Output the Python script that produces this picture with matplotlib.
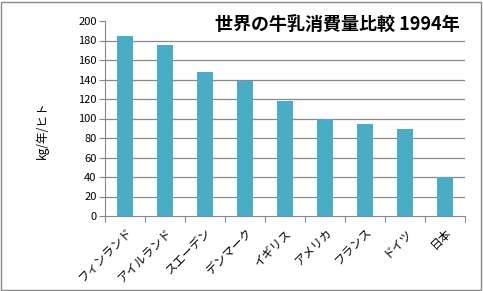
import matplotlib
matplotlib.use("Agg")
import matplotlib.pyplot as plt
from matplotlib.patches import Rectangle

plt.rcParams['font.family'] = ['Noto Sans CJK JP', 'DejaVu Sans']

countries = ['フィンランド', 'アイルランド', 'スエーデン', 'デンマーク', 'イギリス',
             'アメリカ', 'フランス', 'ドイツ', '日本']
milk = [185, 175, 148, 138, 118, 100, 94, 89, 40]
yticks = list(range(0, 201, 20))

fig = plt.figure(figsize=(4.83, 2.91), dpi=100)
ax = fig.add_axes([105 / 483, 1 - 216 / 291, 360 / 483, 195 / 291])

ax.bar(range(len(countries)), milk, width=0.4, color='#4BACC6', zorder=3)
ax.set_xlim(-0.5, len(countries) - 0.5)
ax.set_ylim(0, 200)
ax.set_yticks(yticks)
ax.set_xticks([i - 0.5 for i in range(len(countries) + 1)], minor=False)
ax.set_xticklabels([])
ax.set_xticks(range(len(countries)), minor=True)
ax.set_xticklabels(countries, minor=True, rotation=45, ha='right',
                   rotation_mode='anchor', fontsize=8.5)
ax.tick_params(axis='x', which='minor', length=0, pad=7)
ax.tick_params(axis='x', which='major', length=4, color='#888888')
ax.tick_params(axis='y', length=4, color='#888888', labelsize=8, pad=2)

for y in yticks[1:-1]:
    ax.axhline(y, color='#888888', lw=0.9, zorder=1)

for s in ['top', 'right']:
    ax.spines[s].set_visible(False)
for s in ['left', 'bottom']:
    ax.spines[s].set_color('#888888')

ax.set_ylabel('kg/年/ヒト', fontsize=8.5)
ax.yaxis.set_label_coords(-0.155, 0.44)
ax.text(0.985, 0.985, '世界の牛乳消費量比較 1994年', transform=ax.transAxes,
        ha='right', va='center', fontsize=13, fontweight='bold')

fig.patches.append(Rectangle((1 / 483, 1 / 291), 480 / 483, 288 / 291,
                             transform=fig.transFigure, fill=False,
                             edgecolor='#888888', lw=1))

fig.savefig('out.png', dpi=100)
